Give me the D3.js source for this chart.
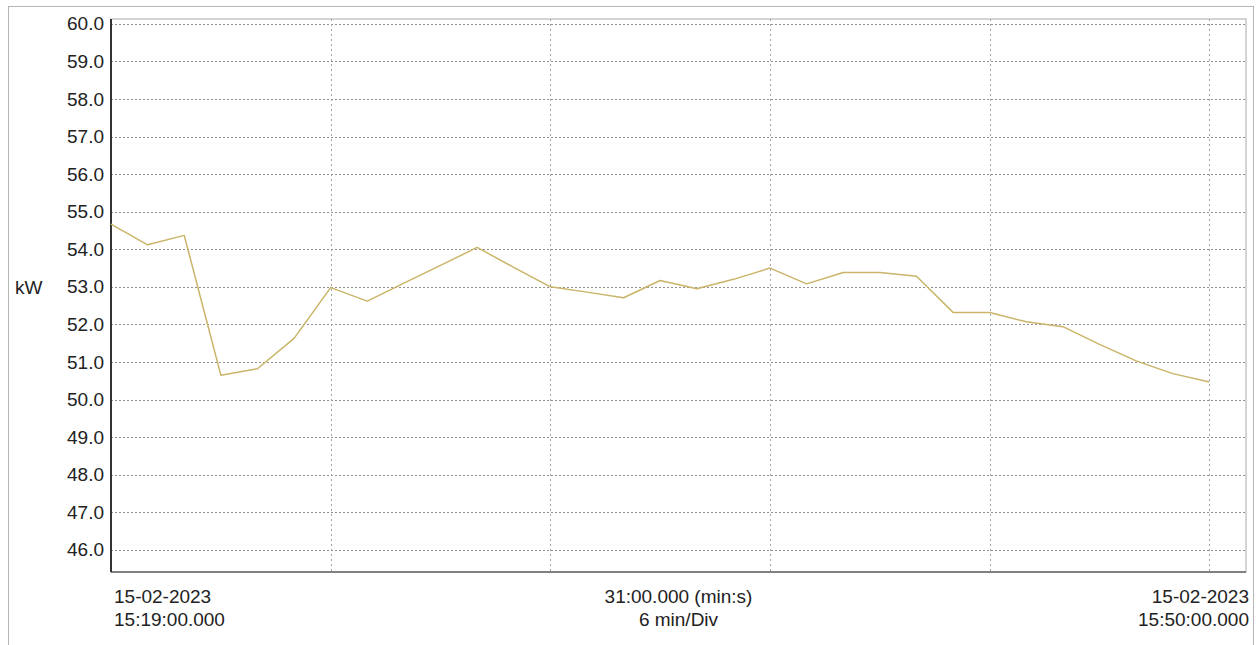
<!DOCTYPE html>
<html>
<head>
<meta charset="utf-8">
<script src="https://cdn.jsdelivr.net/npm/d3@7"></script>
<style>
  body { margin: 0; background: #fff; }
  text { font-family: "Liberation Sans", Arial, sans-serif; fill: #222; }
</style>
</head>
<body>
<div class="svg_container"></div>
<script>
// one sample per minute, starting 15:19:00
var kwValues = [54.67, 54.12, 54.37, 50.65, 50.82, 51.63, 52.98, 52.62, 53.1, 53.57,
                54.05, 53.52, 53.0, 52.86, 52.71, 53.17, 52.95, 53.2, 53.5, 53.08,
                53.38, 53.38, 53.28, 52.32, 52.32, 52.07, 51.94, 51.47, 51.03, 50.69,
                50.47];
var yTicks = [46, 47, 48, 49, 50, 51, 52, 53, 54, 55, 56, 57, 58, 59, 60];
var xGridMinutes = [6, 12, 18, 24, 30];
var spanMinutes = 31;
var yUnit = "kW";
var startLabel = ["15-02-2023", "15:19:00.000"];
var endLabel = ["15-02-2023", "15:50:00.000"];
var midLabel = ["31:00.000 (min:s)", "6 min/Div"];

const WIDTH = 1258;
const HEIGHT = 645;
const LEFT = 111;
const RIGHT = 1246;
const TOP = 19;
const BOTTOM = 572;

var translate = function (x, y) {
  return "translate(" + x + "," + y + ")";
};

var _xScale = d3.scaleLinear()
  .domain([0, spanMinutes])
  .range([LEFT, RIGHT]);

var _yScale = d3.scaleLinear()
  .domain([45.41, 60.13])
  .range([BOTTOM, TOP]);

var drawFrame = function (svg) {
  svg.append('rect')
    .attr('x', 8.5).attr('y', 6.5)
    .attr('width', 1245).attr('height', 660)
    .attr('fill', 'none')
    .attr('stroke', '#b5b5b5');

  svg.append('rect')
    .attr('x', LEFT).attr('y', TOP)
    .attr('width', RIGHT - LEFT).attr('height', BOTTOM - TOP)
    .attr('fill', '#fff')
    .attr('stroke', '#a8a8a8');
};

var drawGrid = function (svg) {
  var grid = svg.append('g');

  grid.selectAll('.hgrid').data(yTicks).enter().append('line')
    .attr('x1', LEFT).attr('x2', RIGHT)
    .attr('y1', function (d) { return Math.round(_yScale(d)) + 0.5; })
    .attr('y2', function (d) { return Math.round(_yScale(d)) + 0.5; })
    .attr('stroke', '#8f8f8f')
    .attr('stroke-dasharray', '2,2');

  grid.selectAll('.vgrid').data(xGridMinutes).enter().append('line')
    .attr('y1', TOP).attr('y2', BOTTOM)
    .attr('x1', function (d) { return Math.round(_xScale(d)) + 0.5; })
    .attr('x2', function (d) { return Math.round(_xScale(d)) + 0.5; })
    .attr('stroke', '#a5a5a5')
    .attr('stroke-dasharray', '2,3');
};

var drawAxes = function (svg) {
  var yAxis = d3.axisLeft(_yScale)
    .tickValues(yTicks)
    .tickFormat(d3.format('.1f'))
    .tickSize(0)
    .tickPadding(7);

  var g = svg.append('g')
    .attr('transform', translate(LEFT, 0))
    .call(yAxis);
  g.select('.domain').remove();
  g.selectAll('text')
    .attr('font-size', 19)
    .attr('font-family', '"Liberation Sans", Arial, sans-serif')
    .attr('fill', '#222');

  svg.append('line')
    .attr('x1', LEFT).attr('x2', RIGHT)
    .attr('y1', BOTTOM).attr('y2', BOTTOM)
    .attr('stroke', '#666').attr('stroke-width', 1.5);

  svg.append('line')
    .attr('x1', LEFT).attr('x2', LEFT)
    .attr('y1', TOP).attr('y2', BOTTOM)
    .attr('stroke', '#333').attr('stroke-width', 2);

  svg.append('text')
    .attr('x', 15).attr('y', _yScale(53) + 7)
    .attr('font-size', 19)
    .text(yUnit);
};

var drawXLabels = function (svg) {
  var block = function (lines, x, anchor) {
    svg.append('g').selectAll('text')
      .data(lines).enter().append('text')
      .attr('x', x)
      .attr('y', function (d, i) { return 603 + i * 23; })
      .attr('text-anchor', anchor)
      .attr('font-size', 19)
      .text(function (d) { return d; });
  };
  block(startLabel, _xScale(0) + 3, 'start');
  block(midLabel, (LEFT + RIGHT) / 2, 'middle');
  block(endLabel, RIGHT + 3, 'end');
};

var line = d3.line()
  .x(function (d, i) { return _xScale(i); })
  .y(function (d) { return _yScale(d); });

var drawLine = function (svg) {
  svg.append('path')
    .attr('d', line(kwValues))
    .attr('fill', 'none')
    .attr('stroke', '#c9b468')
    .attr('stroke-width', 1.5)
    .attr('stroke-linejoin', 'round');
};

var loadDefault = function () {
  var svg = d3.select('.svg_container').append('svg')
    .attr('width', WIDTH)
    .attr('height', HEIGHT)
    .style('display', 'block');

  svg.append('rect').attr('width', WIDTH).attr('height', HEIGHT).attr('fill', '#fff');

  drawFrame(svg);
  drawGrid(svg);
  drawAxes(svg);
  drawLine(svg);
  drawXLabels(svg);
};

window.onload = loadDefault;
</script>
</body>
</html>
